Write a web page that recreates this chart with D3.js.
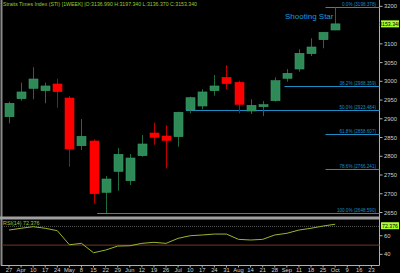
<!DOCTYPE html>
<html>
<head>
<meta charset="utf-8">
<script src="https://cdn.jsdelivr.net/npm/d3@7"></script>
<style>
  body { margin: 0; background: #000; }
  svg { display: block; font-family: "Liberation Sans", Arial, sans-serif; }
</style>
</head>
<body>
<div class="vis-chart"></div>
<script>
// week tick labels along the bottom
const tickLabels = ["27","Apr","10","17","24","May","8","15","22","29","Jun","12","19","26","Jul",
  "10","17","24","31","Aug","14","21","28","Sep","11","18","25","Oct","9","16","23"];

// weekly candles (one per tick, starting at the first)
const opens  = [2905.6,2953.7,2981.4,2975.0,2992.9,2955.5,2828.2,2840.8,2703.9,2759.9,2734.8,2801.6,2862.1,2854.1,
  2852.3,2923.5,2934.2,2975.0,3010.8,2997.4,2920.8,2932.3,2948.3,3008.1,3032.9,3073.8,3111.1,3136.99];
const highs  = [2945.7,2996.4,3037.5,2996.4,3007.1,2960.9,2899.5,2845.3,2747.4,2822.1,2806.1,2856.8,2889.6,2882.7,
  2919.0,2959.0,2978.8,3016.9,3042.8,3001.7,2952.1,2947.5,3010.8,3032.9,3085.5,3114.9,3131.7,3197.34];
const lows   = [2888.0,2948.3,2952.1,2941.4,2929.7,2772.2,2816.8,2674.5,2648.6,2708.1,2723.3,2798.9,2830.9,2767.9,
  2825.6,2914.7,2925.4,2961.7,2978.8,2914.7,2912.8,2907.5,2946.0,2999.0,3025.7,3067.6,3088.2,3136.37];
const closes = [2941.4,2971.6,3006.2,2987.6,2972.4,2819.4,2853.3,2700.1,2739.4,2805.3,2795.4,2832.8,2850.6,2842.6,
  2917.4,2956.3,2971.6,2987.6,2993.7,2938.7,2936.1,2937.7,3001.7,3021.4,3074.8,3091.6,3130.9,3153.34];

// RSI(14)
const rsi = [66.1,68.0,69.7,68.0,65.4,50.3,51.8,41.7,44.6,48.9,49.2,51.8,52.9,51.8,
  57.2,60.0,60.8,61.8,61.8,56.1,55.4,56.1,60.8,62.6,66.1,68.0,70.4,72.376];

// fibonacci retracement
const fibLabels = ["0.0%","38.2%","50.0%","61.8%","78.6%","100.0%"];
const fibValues = [3198.378,2988.359,2923.484,2858.607,2766.241,2648.590];
const fibFrom   = [26.2,22.8,14.65,26.2,26.2,7.3]; // week where each line starts

const priceTicks = [2650,2700,2750,2800,2850,2900,2950,3000,3050,3100,3200];
const rsiTicks = [40,60];

const W = 400, H = 273;
const svg = d3.select(".vis-chart").append("svg").attr("width", W).attr("height", H);
svg.append("rect").attr("width", W).attr("height", H).attr("fill", "#000");

const x = d3.scaleLinear().domain([0, 30]).range([9, 371.4]);
const y = d3.scaleLinear().domain([2638, 3217]).range([217, 0]);
const yr = d3.scaleLinear().domain([28, 76.9]).range([265.5, 220]);
const axisX = 379.5;

const green = "#2e8b57", red = "#ff0000";

// frame
svg.append("line").attr("x1", 1.5).attr("x2", 1.5).attr("y1", 0).attr("y2", 265.5).attr("stroke", "#8a8a8a").attr("stroke-width", 2);
svg.append("rect").attr("x", 0).attr("y", 216.5).attr("width", axisX).attr("height", 3).attr("fill", "#a0a0a0");
svg.append("line").attr("x1", axisX).attr("x2", axisX).attr("y1", 0).attr("y2", 265.5).attr("stroke", "#b0b0b0");
svg.append("line").attr("x1", 1).attr("x2", axisX).attr("y1", 265.5).attr("y2", 265.5).attr("stroke", "#b0b0b0");

// title
svg.append("text").attr("x", 3).attr("y", 6.3).attr("font-size", 5.4).attr("fill", "#9acd32")
  .attr("textLength", 194).attr("lengthAdjust", "spacingAndGlyphs")
  .text("Straits Times Index (STI) [1WEEK] |O:3136.990 H:3197.340 L:3136.370 C:3153.340");

// fib lines
const fib = svg.append("g");
fibValues.forEach((v, i) => {
  fib.append("line").attr("x1", x(fibFrom[i])).attr("x2", axisX).attr("y1", Math.round(y(v)) + 0.5).attr("y2", Math.round(y(v)) + 0.5)
    .attr("stroke", "#1c8ec2").attr("stroke-width", 1);
  fib.append("text").attr("x", 376).attr("y", Math.round(y(v)) - 1).attr("text-anchor", "end")
    .attr("font-size", 4.6).attr("fill", "#1c8ec2")
    .text(fibLabels[i] + " (" + v.toFixed(3) + ")");
});

// candles
const candles = svg.append("g");
closes.forEach((c, i) => {
  const up = c >= opens[i];
  const cx = Math.round(x(i)) + 0.5;
  candles.append("line").attr("x1", cx).attr("x2", cx).attr("y1", y(highs[i])).attr("y2", y(lows[i]))
    .attr("stroke", up ? "#1f6b40" : "#c00000").attr("stroke-width", 1);
  const top = y(Math.max(c, opens[i])), bot = y(Math.min(c, opens[i]));
  candles.append("rect").attr("x", cx - 4.5).attr("y", top).attr("width", 9).attr("height", Math.max(1.5, bot - top))
    .attr("fill", up ? green : red).attr("stroke", up ? "#3a9a66" : red).attr("stroke-width", 0.6);
});

svg.append("text").attr("x", 285).attr("y", 19).attr("font-size", 8).attr("fill", "#1e9ad6")
  .text("Shooting Star");

// price axis
priceTicks.forEach(t => {
  svg.append("line").attr("x1", axisX).attr("x2", axisX + 3).attr("y1", y(t)).attr("y2", y(t)).attr("stroke", "#b0b0b0");
  svg.append("text").attr("x", 384).attr("y", y(t) + 2).attr("font-size", 5.8).attr("fill", "#d0d0d0").text(t);
});
function tag(val, yy, txt) {
  svg.append("rect").attr("x", 381).attr("y", yy - 3.5).attr("width", 18).attr("height", 7).attr("fill", "#adff2f");
  svg.append("text").attr("x", 390).attr("y", yy + 2).attr("text-anchor", "middle").attr("font-size", 5.2)
    .attr("fill", "#000").text(txt);
}
tag(closes[closes.length - 1], y(closes[closes.length - 1]), closes[closes.length - 1].toFixed(3));

// RSI panel
svg.append("line").attr("x1", 2).attr("x2", axisX).attr("y1", yr(70)).attr("y2", yr(70))
  .attr("stroke", "#555").attr("stroke-dasharray", "1,1");
svg.append("line").attr("x1", 2).attr("x2", axisX).attr("y1", yr(50)).attr("y2", yr(50))
  .attr("stroke", "#5a2c1c").attr("stroke-width", 1.2);
svg.append("path").datum(rsi).attr("fill", "none").attr("stroke", "#9ab62c").attr("stroke-width", 1)
  .attr("d", d3.line().x((d, i) => x(i)).y(d => yr(d)));
svg.append("text").attr("x", 3).attr("y", 224.5).attr("font-size", 5.4).attr("fill", "#9acd32")
  .text("RSI(14) " + rsi[rsi.length - 1].toFixed(3));
rsiTicks.forEach(t => {
  svg.append("line").attr("x1", axisX).attr("x2", axisX + 3).attr("y1", yr(t)).attr("y2", yr(t)).attr("stroke", "#b0b0b0");
  svg.append("text").attr("x", 384).attr("y", yr(t) + 2).attr("font-size", 5.8).attr("fill", "#d0d0d0").text(t);
});
tag(rsi[rsi.length - 1], yr(rsi[rsi.length - 1]) + 1.5, rsi[rsi.length - 1].toFixed(3));

// week axis
tickLabels.forEach((t, i) => {
  svg.append("line").attr("x1", x(i)).attr("x2", x(i)).attr("y1", 265.5).attr("y2", 267.5).attr("stroke", "#b0b0b0");
  svg.append("text").attr("x", x(i)).attr("y", 272).attr("text-anchor", "middle").attr("font-size", 5.8)
    .attr("fill", "#d0d0d0").text(t);
});
</script>
</body>
</html>
